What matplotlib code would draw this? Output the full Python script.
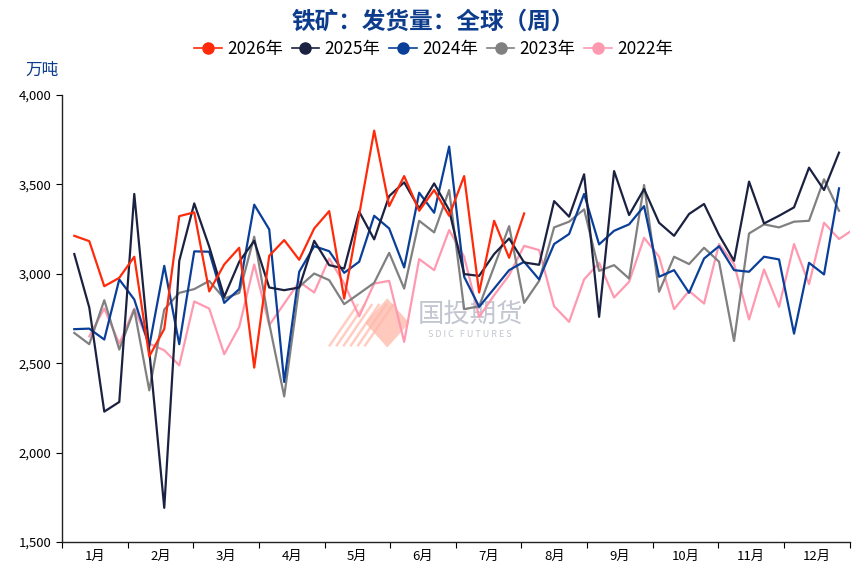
import numpy as np
import matplotlib
matplotlib.use("Agg")
from matplotlib import pyplot as plt
from matplotlib.patches import Polygon

plt.rcParams['font.family'] = ['Noto Sans CJK SC', 'DejaVu Sans']

months = ['1月', '2月', '3月', '4月', '5月', '6月', '7月', '8月', '9月', '10月', '11月', '12月']
years = ['2026年', '2025年', '2024年', '2023年', '2022年']
colors = ['#FF2A0A', '#1B2140', '#0A3F99', '#808080', '#FF99B0']

# weekly shipments, 万吨 (week index 0..)
y2026 = [3212, 3182, 2930, 2977, 3095, 2538, 2691, 3322, 3343, 2901, 3052, 3145, 2475, 3100, 3188, 3078,
         3253, 3350, 2861, 3330, 3800, 3378, 3546, 3352, 3468, 3324, 3546, 2895, 3296, 3089, 3337]
y2025 = [3110, 2811, 2229, 2283, 3446, 2570, 1691, 3072, 3393, 3151, 2871, 3067, 3184, 2923, 2908, 2923,
         3184, 3048, 3029, 3347, 3192, 3434, 3511, 3365, 3505, 3356, 2998, 2988, 3110, 3197, 3063, 3050,
         3406, 3319, 3556, 2759, 3574, 3328, 3474, 3285, 3212, 3334, 3390, 3216, 3072, 3515, 3281, 3324,
         3371, 3593, 3468, 3677]
y2024 = [2690, 2693, 2632, 2968, 2856, 2594, 3044, 2606, 3125, 3123, 2837, 2914, 3386, 3248, 2395, 3011,
         3154, 3126, 3005, 3067, 3324, 3253, 3035, 3453, 3341, 3711, 2983, 2815, 2917, 3020, 3067, 2968,
         3166, 3222, 3446, 3164, 3240, 3276, 3378, 2983, 3020, 2893, 3085, 3154, 3020, 3011, 3095, 3080,
         2665, 3061, 2996, 3477]
y2023 = [2669, 2606, 2852, 2576, 2800, 2348, 2800, 2893, 2914, 2960, 2861, 2893, 3207, 2721, 2314, 2927,
         3001, 2964, 2830, 2889, 2949, 3117, 2917, 3296, 3231, 3468, 2802, 2818, 3040, 3266, 2837, 2960,
         3259, 3291, 3360, 3016, 3048, 2973, 3496, 2899, 3095, 3054, 3145, 3067, 2624, 3225, 3276, 3259,
         3291, 3296, 3528, 3352]
y2022 = [np.nan, 2650, 2806, 2609, 2805, 2609, 2572, 2488, 2845, 2805, 2550, 2703, 3052, 2712, 2833, 2955,
         2895, 3085, 2945, 2762, 2945, 2960, 2619, 3082, 3020, 3244, 3095, 2759, 2880, 2992, 3156, 3132,
         2818, 2731, 2968, 3061, 2867, 2955, 3201, 3095, 2802, 2904, 2833, 3166, 3054, 2744, 3024, 2815,
         3166, 2942, 3285, 3194, 3250]

series = [y2026, y2025, y2024, y2023, y2022]

fig = plt.figure(figsize=(8.67, 5.75), dpi=100)
ax = fig.add_axes([0.0715, 0.0574, 0.9085, 0.7776])

x_lo, x_hi = -0.82, 51.71

# watermark (behind the lines)
ax.text(0.518, 0.51, '国投期货', transform=ax.transAxes, ha='center', va='center',
        fontsize=19, color='#B8BCC8', alpha=0.85, zorder=1)
ax.text(0.518, 0.463, 'S D I C   F U T U R E S', transform=ax.transAxes, ha='center', va='center',
        fontsize=6.5, color='#B8BCC8', alpha=0.85, zorder=1)
diamond = Polygon([(0.385, 0.49), (0.413, 0.545), (0.441, 0.49), (0.413, 0.435)],
                  closed=True, transform=ax.transAxes, facecolor='#FFB8A8', alpha=0.75,
                  edgecolor='none', zorder=1)
ax.add_patch(diamond)
for k in range(6):
    x0 = 0.36 + k * 0.009
    ax.plot([x0 - 0.02, x0 + 0.015], [0.44, 0.53], transform=ax.transAxes, color='#FFB8A8',
            lw=1.8, alpha=0.7, zorder=1)

# draw older years first so 2026 sits on top
for vals, c, lab, z in reversed(list(zip(series, colors, years, [6, 5, 4, 3, 2]))):
    xs = np.arange(len(vals))
    ax.plot(xs, vals, color=c, lw=1.6, label=lab, zorder=z)

ax.set_xlim(x_lo, x_hi)
ax.set_ylim(1500, 4000)
ax.set_yticks(np.arange(1500, 4001, 500))
ax.set_yticklabels([f'{v:,}' for v in range(1500, 4001, 500)], fontsize=9.5)

edges = np.linspace(x_lo, x_hi, 13)
ax.set_xticks(edges)
ax.set_xticklabels([])
ax.set_xticks((edges[:-1] + edges[1:]) / 2, minor=True)
ax.set_xticklabels(months, minor=True, fontsize=9.5)
ax.tick_params(axis='x', which='minor', length=0, pad=6)
ax.tick_params(axis='x', which='major', length=4, direction='out')
ax.tick_params(axis='y', length=4, direction='out')

for s in ['top', 'right']:
    ax.spines[s].set_visible(False)
for s in ['left', 'bottom']:
    ax.spines[s].set_color('#222222')
    ax.spines[s].set_linewidth(1.0)

# legend with circle markers
handles = []
for c, lab in zip(colors, years):
    h, = ax.plot([], [], color=c, lw=1.2, marker='o', markersize=8, label=lab)
    handles.append(h)
fig.legend(handles=handles, labels=years, loc='center', bbox_to_anchor=(0.5, 0.914),
           ncol=5, frameon=False, fontsize=12.5, handlelength=1.6, handletextpad=0.3,
           columnspacing=0.5)

fig.text(0.5, 0.962, '铁矿：发货量：全球（周）', ha='center', va='center',
         fontsize=17, fontweight='bold', color='#0E3C8C')
fig.text(0.048, 0.877, '万吨', ha='center', va='center', fontsize=12, color='#0E3C8C')

fig.savefig('out.png', dpi=100)
